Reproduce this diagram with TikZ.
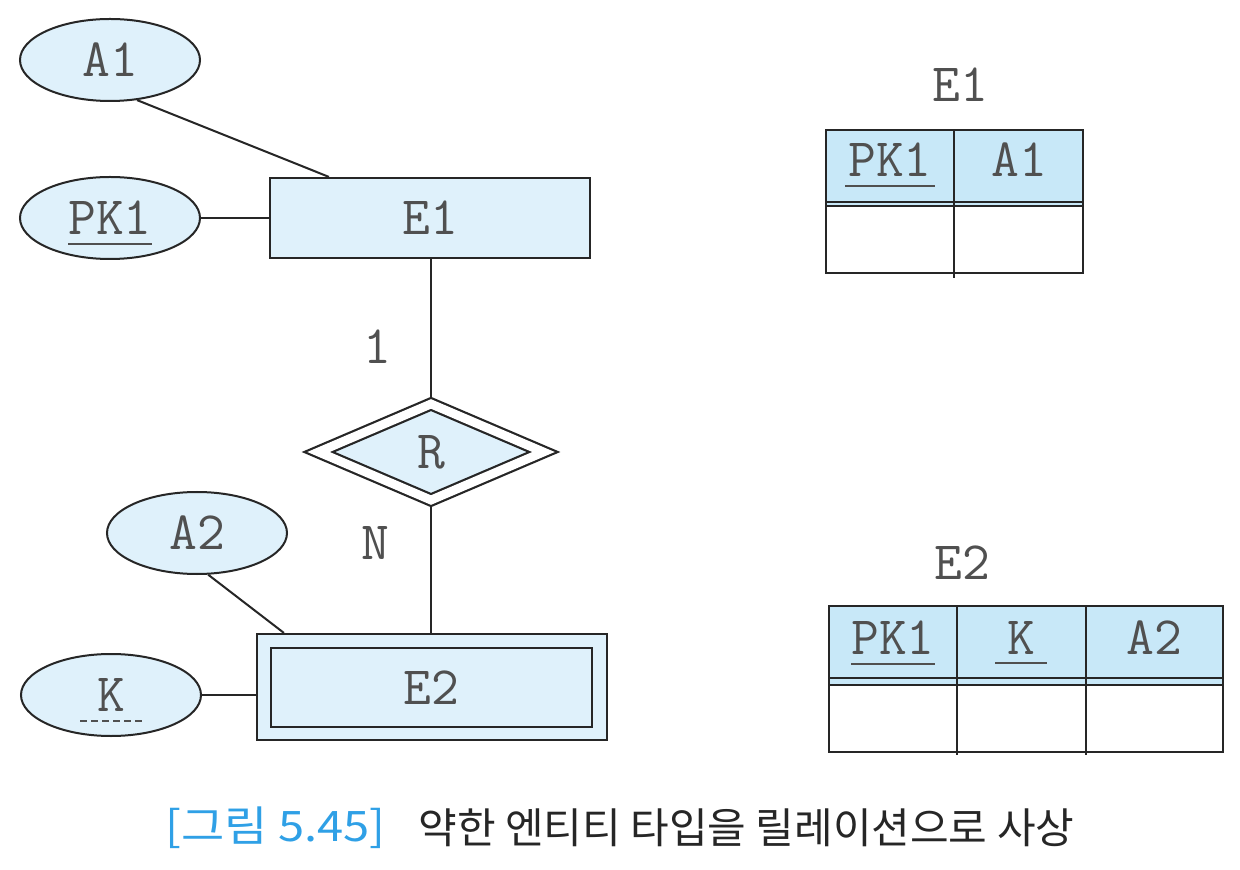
\documentclass[tikz,border=0pt]{standalone}
\usepackage{fontspec}
\newfontfamily\kr{Noto Sans CJK KR}
\newfontfamily\krwide[FakeStretch=1.12]{Noto Sans CJK KR}
\usetikzlibrary{shapes.geometric,calc}
\definecolor{erfill}{HTML}{DFF1FB}
\definecolor{hdrfill}{HTML}{C8E8F8}
\definecolor{txt}{HTML}{505050}
\definecolor{lnc}{HTML}{262626}
\definecolor{capblue}{HTML}{2FA0E6}
\definecolor{captxt}{HTML}{262626}
\pgfdeclarelayer{bg}
\pgfsetlayers{bg,main}
\newcommand\myul[2]{\vtop{\hbox to #1{\hss#2\hss}\kern4pt\hrule height 1pt}}
\newcommand\mydul[2]{\vtop{\hbox to #1{\hss#2\hss}\nointerlineskip\kern4pt\hbox to #1{\xleaders\hbox to 5.5pt{\hss\vrule height 1pt width 3.2pt\hss}\hfill}}}
\tikzset{
  mono/.style={font=\fontsize{27}{30}\selectfont\ttfamily, text=txt, text depth=0pt},
  attr/.style={mono, ellipse, draw=lnc, line width=1pt, fill=erfill, minimum width=90pt, minimum height=41pt, inner sep=0pt},
  ent/.style={mono, rectangle, draw=lnc, line width=1.1pt, fill=erfill, inner sep=0pt},
  rel/.style={mono, diamond, draw=lnc, line width=1.1pt, double=white, double distance=4.4pt, fill=erfill, minimum width=113pt, minimum height=48.5pt, inner sep=0pt},
  lbl/.style={mono, inner sep=0pt},
  conn/.style={draw=lnc, line width=1pt},
  tbl/.style={draw=lnc, line width=1pt},
}
\begin{document}
\begin{tikzpicture}[x=0.5pt,y=-0.5pt]
\useasboundingbox (0,0) rectangle (1240,870);

% ER diagram
\node[attr] (A1) at (110,60) {A1};
\node[attr] (PK1) at (110,218) {\myul{42pt}{PK1}};
\node[ent, minimum width=160pt, minimum height=40pt] (E1) at (430,218) {E1};
\node[rel] (R) at (431,452) {R};
\node[attr] (A2) at (197,533) {A2};
\node[attr] (K) at (111,695) {\mydul{33pt}{K}};
\node[ent, minimum width=175pt, minimum height=53pt] (E2o) at (432,687) {};
\node[ent, minimum width=160.5pt, minimum height=39.5pt] (E2) at (431.5,687.5) {E2};
\node[lbl] (one) at (377,347) {1};
\node[lbl] (nn) at (375,543) {N};

\begin{pgfonlayer}{bg}
\fill[white] (0,0) rectangle (1240,870);
\draw[conn] (A1.304) -- ($(E1.north west)+(60,0)$);
\draw[conn] (PK1.east) -- (E1.west);
\draw[conn] (R.north) -- (R.north |- E1.south);
\draw[conn] (R.south) -- (R.south |- E2o.north);
\draw[conn] (A2.285) -- ($(E2o.north west)+(28,0)$);
\draw[conn] (K.east) -- (K.east -| E2o.west);
\end{pgfonlayer}

% Table E1
\node[lbl] (t1) at (960,85) {E1};
\fill[hdrfill] (826,130) rectangle (1083,206);
\draw[tbl] (826,130) rectangle (1083,273);
\draw[tbl] (826,202) -- (1083,202) (826,206) -- (1083,206);
\draw[tbl] (954,130) -- (954,278);
\node[lbl] (t1c1) at (890,160) {\myul{45pt}{PK1}};
\node[lbl] (t1c2) at (1019,160) {A1};

% Table E2
\node[lbl] (t2) at (962,563) {E2};
\fill[hdrfill] (829,606) rectangle (1223,685);
\draw[tbl] (829,606) rectangle (1223,752);
\draw[tbl] (829,678) -- (1223,678) (829,685) -- (1223,685);
\draw[tbl] (957,606) -- (957,755) (1086,606) -- (1086,755);
\node[lbl] (t2c1) at (893,638) {\myul{42pt}{PK1}};
\node[lbl] (t2c2) at (1021,638) {\myul{26pt}{K}};
\node[lbl] (t2c3) at (1154,638) {A2};

% Caption
\node[anchor=west, inner sep=0pt, text=capblue, font=\krwide\fontsize{21}{24}\selectfont] (cl) at (165,828) {[그림 5.45]};
\node[anchor=west, inner sep=0pt, text=captxt, font=\kr\fontsize{21}{24}\selectfont] (ct) at (418,828) {약한 엔티티 타입을 릴레이션으로 사상};
\end{tikzpicture}
\end{document}
